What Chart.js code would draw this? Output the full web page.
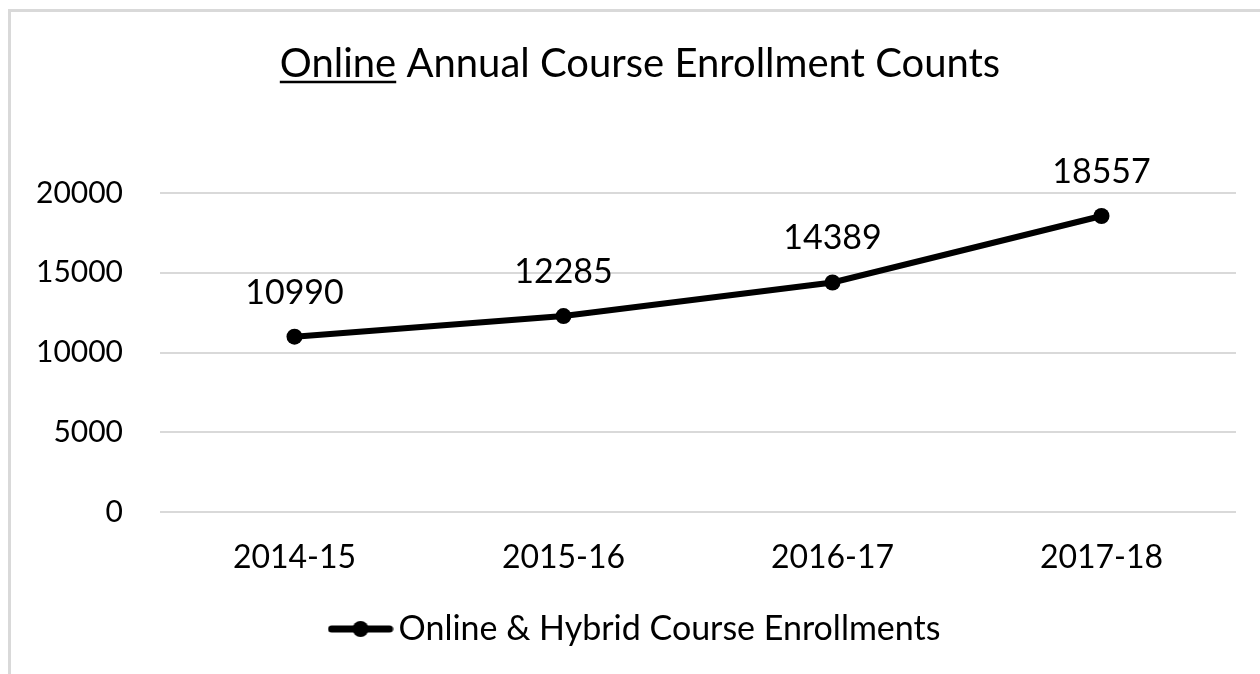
<!DOCTYPE html>
<html>
<head>
<meta charset="utf-8">
<script src="https://cdn.jsdelivr.net/npm/chart.js@4/dist/chart.umd.min.js"></script>
<style>
    html, body { margin: 0; padding: 0; background: #fff; overflow: hidden; }
    #frame { position: absolute; left: 8px; top: 9px; width: 1300px; height: 700px; border: 3px solid #d9d9d9; }
    #wrap { position: absolute; left: 0; top: 0; width: 1260px; height: 674px; }
</style>
</head>
<body>
<div id="frame"></div>
<div id="wrap"><canvas id="grafico"></canvas></div>
<script>
const years = ['2014-15', '2015-16', '2016-17', '2017-18'];
const enrollments = [10990, 12285, 14389, 18557];
const yTicks = [0, 5000, 10000, 15000, 20000];
const seriesName = 'Online & Hybrid Course Enrollments';
const titleUnderlined = 'Online';
const titleRest = ' Annual Course Enrollment Counts';

const fontFamily = 'Lato, "Open Sans", sans-serif';
const titleSize = 40;

// simbolo da legenda: linha com ponto no meio
function legendSymbol() {
    let c = document.createElement('canvas');
    c.width = 66;
    c.height = 18;
    let ctx = c.getContext('2d');
    ctx.strokeStyle = '#000';
    ctx.lineWidth = 7;
    ctx.lineCap = 'round';
    ctx.beginPath();
    ctx.moveTo(4, 9);
    ctx.lineTo(62, 9);
    ctx.stroke();
    ctx.fillStyle = '#000';
    ctx.beginPath();
    ctx.arc(33, 9, 8, 0, Math.PI * 2);
    ctx.fill();
    return c;
}

// rotulos de valor acima dos pontos
const valueLabels = {
    id: 'valueLabels',
    afterDatasetsDraw(chart) {
        let ctx = chart.ctx;
        let meta = chart.getDatasetMeta(0);
        ctx.save();
        ctx.font = `34px ${fontFamily}`;
        ctx.fillStyle = '#000';
        ctx.textAlign = 'center';
        ctx.textBaseline = 'middle';
        meta.data.forEach((pt, i) => {
            ctx.fillText(String(chart.data.datasets[0].data[i]), pt.x, pt.y - 44);
        });
        ctx.restore();
    }
};

// sublinhado da primeira palavra do titulo
const titleUnderline = {
    id: 'titleUnderline',
    afterDraw(chart) {
        let t = chart.titleBlock;
        if (!t) return;
        let ctx = chart.ctx;
        ctx.save();
        ctx.font = `${titleSize}px ${fontFamily}`;
        let full = titleUnderlined + titleRest;
        let wFull = ctx.measureText(full).width;
        let wWord = ctx.measureText(titleUnderlined).width;
        let cx = (t.left + t.right) / 2;
        let x0 = cx - wFull / 2;
        let yLine = t.top + t.options.padding.top + titleSize * 0.6 + 18;
        ctx.strokeStyle = '#000';
        ctx.lineWidth = 2.5;
        ctx.beginPath();
        ctx.moveTo(x0, yLine);
        ctx.lineTo(x0 + wWord, yLine);
        ctx.stroke();
        ctx.restore();
    }
};

new Chart(document.getElementById('grafico'), {
    type: 'line',
    data: {
        labels: years,
        datasets: [{
            label: seriesName,
            data: enrollments,
            borderColor: '#000',
            backgroundColor: '#000',
            borderWidth: 6,
            pointRadius: 8,
            pointBackgroundColor: '#000',
            pointBorderWidth: 0,
            tension: 0
        }]
    },
    options: {
        responsive: true,
        maintainAspectRatio: false,
        animation: false,
        layout: { padding: { left: 20, right: 0, top: 0, bottom: 18 } },
        scales: {
            x: {
                offset: true,
                grid: { display: false, drawTicks: false },
                border: { display: false },
                ticks: { color: '#000', font: { family: fontFamily, size: 32 }, padding: 26 },
                afterFit: s => { s.height = 90; }
            },
            y: {
                min: 0,
                max: 20000,
                afterBuildTicks: s => { s.ticks = yTicks.map(v => ({ value: v })); },
                grid: { color: '#d9d9d9', lineWidth: 2, drawTicks: false },
                border: { display: false },
                ticks: {
                    color: '#000',
                    font: { family: fontFamily, size: 30 },
                    padding: 37,
                    callback: v => String(v)
                },
                afterFit: s => { s.width = 140; }
            },
            spare: {
                position: 'right',
                display: true,
                grid: { display: false, drawTicks: false },
                border: { display: false },
                ticks: { display: false },
                afterFit: s => { s.width = 24; }
            }
        },
        plugins: {
            title: {
                display: true,
                text: titleUnderlined + titleRest,
                color: '#000',
                font: { family: fontFamily, size: titleSize, weight: 'normal' },
                padding: { top: 40, bottom: 105 }
            },
            legend: {
                display: true,
                position: 'bottom',
                labels: {
                    color: '#000',
                    font: { family: fontFamily, size: 34 },
                    usePointStyle: true,
                    pointStyle: legendSymbol(),
                    pointStyleWidth: 42,
                    padding: 10
                }
            },
            tooltip: { enabled: false }
        }
    },
    plugins: [valueLabels, titleUnderline]
});
</script>
</body>
</html>
